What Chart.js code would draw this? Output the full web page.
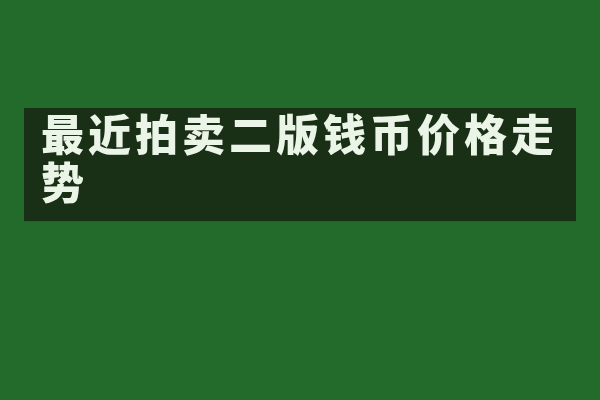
<!DOCTYPE html>
<html>
<head>
<meta charset="utf-8">
<script src="https://cdn.jsdelivr.net/npm/chart.js@4/dist/chart.umd.min.js"></script>
<style>
  html, body { margin: 0; padding: 0; background: #236b2b; }
  #wrap { width: 600px; height: 400px; }
</style>
</head>
<body>
<div id="wrap"><canvas id="chart" width="600" height="400"></canvas></div>
<script>
// title text as it wraps in the picture
const titleLines = ['最近拍卖二版钱币价格走', '势'];
// no series in the picture
const labels = [];
const values = [];

// green page + dark panel behind the title
const backdrop = {
  id: 'backdrop',
  beforeDraw(chart) {
    const ctx = chart.ctx;
    const t = chart.titleBlock;
    ctx.save();
    ctx.fillStyle = '#236b2b';
    ctx.fillRect(0, 0, chart.width, chart.height);
    ctx.fillStyle = 'rgba(25, 44, 21, 0.95)';
    ctx.fillRect(t.left - 17, t.top - 2, t.right - t.left + 17, t.height + 16);
    ctx.restore();
    // wider spacing between the glyphs, as in the picture
    ctx.letterSpacing = '4px';
  },
  afterDraw(chart) {
    chart.ctx.letterSpacing = '0px';
  },
};

const chart = new Chart(document.getElementById('chart'), {
  type: 'bar',
  data: {
    labels: labels,
    datasets: [{ data: values }],
  },
  options: {
    responsive: false,
    animation: false,
    devicePixelRatio: 1,
    layout: { padding: { top: 110, left: 41, right: 24 } },
    scales: { x: { display: false }, y: { display: false } },
    plugins: {
      legend: { display: false },
      tooltip: { enabled: false },
      title: {
        display: true,
        text: titleLines,
        align: 'start',
        color: '#ebf5e7',
        padding: { top: 0, bottom: 0 },
        font: { family: "'Noto Sans CJK SC'", size: 43, weight: 900, lineHeight: 1.13 },
      },
    },
  },
  plugins: [backdrop],
});
</script>
</body>
</html>
